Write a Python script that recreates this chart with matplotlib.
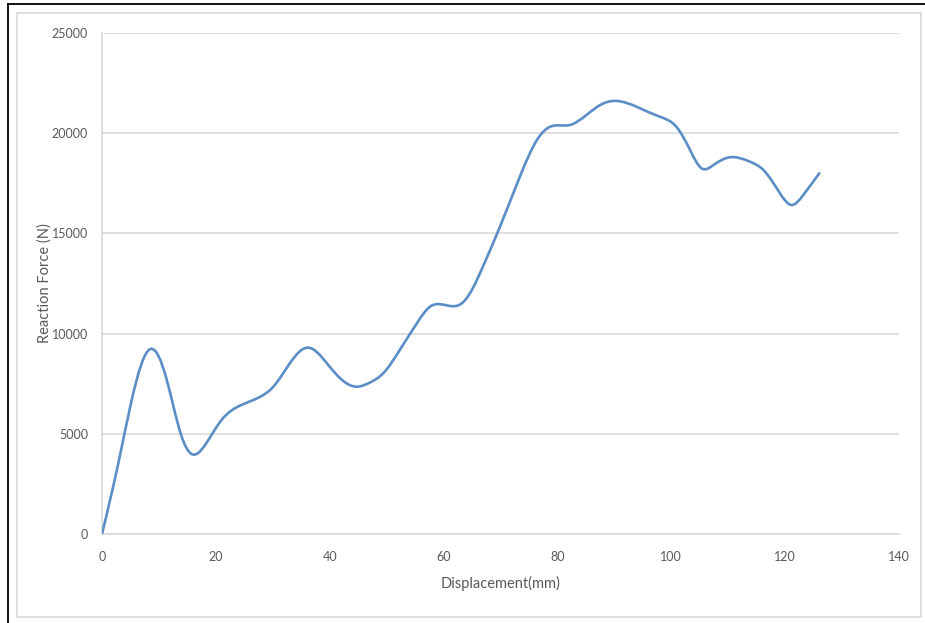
import matplotlib
matplotlib.use("Agg")
import numpy as np
import matplotlib.pyplot as plt
from matplotlib.path import Path
from matplotlib.patches import PathPatch, Rectangle
from matplotlib.lines import Line2D

# Data (points along the smoothed curve)
displacement = [0, 2.8, 5.15, 8.5, 11.3, 13.9, 15.75, 18.1, 21.0, 24.5, 27.8, 30.1,
                33.0, 36.2, 39.5, 41.8, 44.7, 47.0, 49.4, 52.3, 55.3, 57.6, 61.1, 63.2, 65.2,
                67.0, 69.9, 73.4, 76.4, 78.7, 82.2, 85.1, 88.1, 90.4, 93.9, 98.0, 100.9, 103.3,
                105.3, 107.4, 110.3, 113.8, 116.2, 119.1, 121.1, 123.2, 126.0]
force = [0, 3440, 6600, 9230, 7770, 4940, 3990, 4440, 5690, 6440, 6850, 7350,
         8520, 9300, 8520, 7780, 7350, 7550, 8020, 9180, 10510, 11340, 11380, 11510, 12300,
         13400, 15330, 17830, 19660, 20320, 20410, 20910, 21490, 21610, 21320, 20820, 20320, 19160,
         18250, 18410, 18800, 18580, 18160, 17000, 16420, 16920, 18000]
x_ticks = [0, 20, 40, 60, 80, 100, 120, 140]
y_ticks = [0, 5000, 10000, 15000, 20000, 25000]

LINE_COLOR = "#5B8DC6"
GRID_COLOR = "#D9D9D9"
TEXT_COLOR = "#595959"
FONT = "Lato"

fig = plt.figure(figsize=(9.25, 6.23), dpi=100)
ax = fig.add_axes([102 / 925, 1 - 534 / 623, 797 / 925, 501 / 623])

# Smoothed line: natural cubic spline through the points, drawn as Bezier segments
xs = np.asarray(displacement, float)
ys = np.asarray(force, float)
n = len(xs)
h = np.diff(xs)
A = np.zeros((n, n))
b = np.zeros(n)
A[0, 0] = A[-1, -1] = 1
for i in range(1, n - 1):
    A[i, i - 1] = h[i - 1]
    A[i, i] = 2 * (h[i - 1] + h[i])
    A[i, i + 1] = h[i]
    b[i] = 6 * ((ys[i + 1] - ys[i]) / h[i] - (ys[i] - ys[i - 1]) / h[i - 1])
M = np.linalg.solve(A, b)
verts = [(xs[0], ys[0])]
codes = [Path.MOVETO]
for i in range(n - 1):
    sec = (ys[i + 1] - ys[i]) / h[i]
    d0 = sec - h[i] * (2 * M[i] + M[i + 1]) / 6
    d1 = sec + h[i] * (M[i] + 2 * M[i + 1]) / 6
    verts += [(xs[i] + h[i] / 3, ys[i] + d0 * h[i] / 3),
              (xs[i + 1] - h[i] / 3, ys[i + 1] - d1 * h[i] / 3),
              (xs[i + 1], ys[i + 1])]
    codes += [Path.CURVE4] * 3
ax.add_patch(PathPatch(Path(verts, codes), fill=False, edgecolor=LINE_COLOR, lw=1.9,
                       capstyle="round", joinstyle="round", zorder=3))

ax.set_xlim(0, 140)
ax.set_ylim(0, 25000)
ax.set_xticks(x_ticks)
ax.set_yticks(y_ticks)
ax.yaxis.grid(True, color=GRID_COLOR, lw=1.2)
ax.set_axisbelow(True)
for s in ["top", "right"]:
    ax.spines[s].set_visible(False)
for s in ["left", "bottom"]:
    ax.spines[s].set_color(GRID_COLOR)
    ax.spines[s].set_linewidth(1.2)
ax.tick_params(length=0, labelsize=9, labelcolor=TEXT_COLOR)
ax.tick_params(axis="y", pad=10)
ax.tick_params(axis="x", pad=12)
for lab in ax.get_xticklabels() + ax.get_yticklabels():
    lab.set_fontfamily(FONT)

ax.set_xlabel("Displacement(mm)", fontsize=10.5, color=TEXT_COLOR, family=FONT)
ax.set_ylabel("Reaction Force (N)", fontsize=10.5, color=TEXT_COLOR, family=FONT)
ax.xaxis.set_label_coords(0.5, -0.098)
ax.xaxis.label.set_va("center")
ax.yaxis.set_label_coords(-0.0725, 0.5)
ax.yaxis.label.set_va("center")
ax.patch.set_alpha(0)

# Outer frames
fig.patches.append(Rectangle((17 / 925, 1 - 617 / 623), 904 / 925, 604 / 623,
                             transform=fig.transFigure, fill=False, edgecolor="#D9D9D9", lw=1.2))
fig.lines.append(Line2D([8 / 925, 8 / 925], [0, 1 - 4 / 623], transform=fig.transFigure,
                        color="black", lw=1.3))
fig.lines.append(Line2D([8 / 925, 1], [1 - 4 / 623, 1 - 4 / 623], transform=fig.transFigure,
                        color="black", lw=1.3))

fig.savefig("out.png", dpi=100)
